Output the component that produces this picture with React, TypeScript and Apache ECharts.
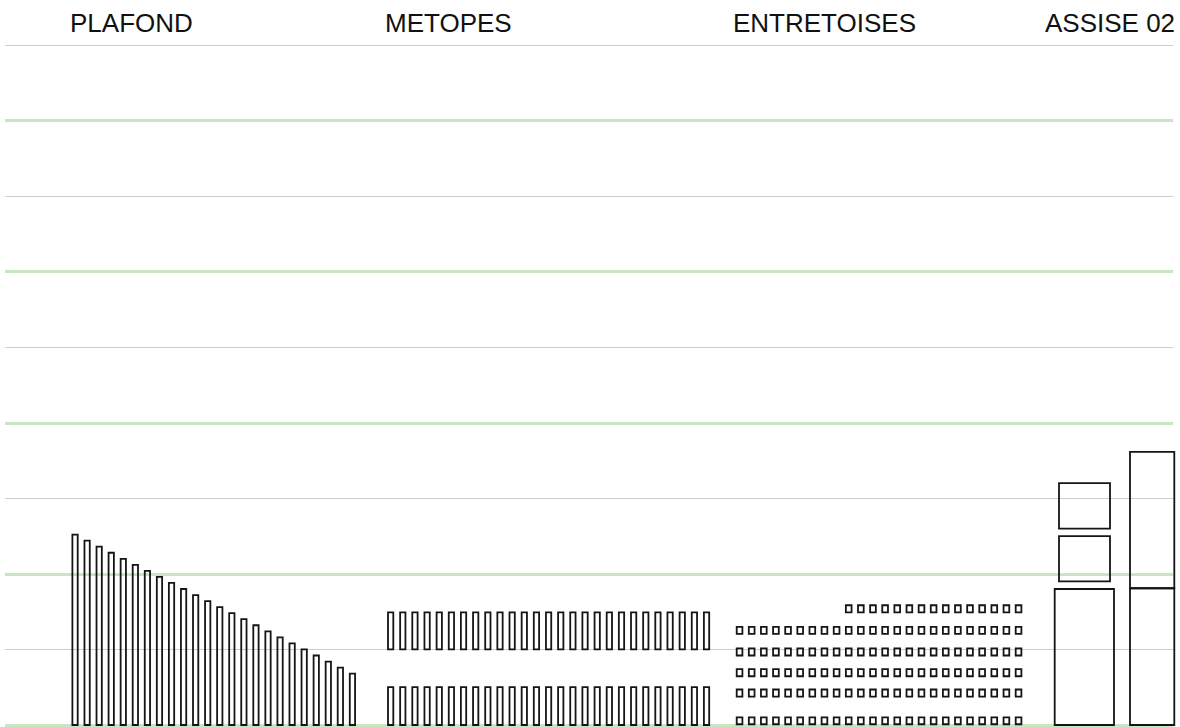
import React, { useEffect, useRef } from "react";
import * as echarts from "echarts";

// ---------- data (in height units; one grid line = 1 unit) ----------
const groupTitles = ["PLAFOND", "METOPES", "ENTRETOISES", "ASSISE 02"];

// PLAFOND: one bar per slab, heights
const plafondHeights = [
  2.52, 2.44, 2.36, 2.28, 2.2, 2.12, 2.04, 1.96, 1.88, 1.8, 1.72, 1.64,
  1.56, 1.48, 1.4, 1.32, 1.24, 1.16, 1.08, 1.0, 0.92, 0.84, 0.76, 0.68,
];

// METOPES: two rows of blocks
const metopesCounts = [27, 27];
const metopesBottoms = [0, 1.0];
const metopesTops = [0.5, 1.49];

// ENTRETOISES: six rows of small blocks (top row is shorter, right aligned)
const entretoisesCounts = [24, 24, 24, 24, 24, 15];
const entretoisesBottoms = [0.01, 0.375, 0.645, 0.92, 1.205, 1.49];
const entretoisesTops = [0.1, 0.47, 0.74, 1.015, 1.3, 1.585];

// ASSISE 02: two columns of stacked blocks
const assiseLeftBottoms = [0, 1.9, 2.6];
const assiseLeftTops = [1.8, 2.5, 3.2];
const assiseRightBottoms = [0, 1.81];
const assiseRightTops = [1.81, 3.615];

// grid lines
const yMax = 9;

// ---------- layout (horizontal placement in x-axis units) ----------
const LAYOUT = {
  xMax: 1168,
  titleX: [65, 380, 728, 1040],
  plafond: { start: 67.4, pitch: 12.06, width: 5.3 },
  metopes: { start: 383.0, pitch: 12.15, width: 5.3 },
  entretoises: { start: 731.7, pitch: 12.13, width: 5.7 },
  assiseLeft: [
    { x0: 1049.7, x1: 1109.0 },
    { x0: 1054.0, x1: 1105.0 },
    { x0: 1054.0, x1: 1105.0 },
  ],
  assiseRight: { x0: 1125.0, x1: 1169.3 },
};

function buildBlocks(): number[][] {
  const out: number[][] = [];
  const p = LAYOUT.plafond;
  plafondHeights.forEach((h, i) => {
    const x0 = p.start + i * p.pitch;
    out.push([x0, x0 + p.width, 0, h]);
  });
  const m = LAYOUT.metopes;
  metopesCounts.forEach((c, r) => {
    for (let i = 0; i < c; i++) {
      const x0 = m.start + i * m.pitch;
      out.push([x0, x0 + m.width, metopesBottoms[r], metopesTops[r]]);
    }
  });
  const e = LAYOUT.entretoises;
  const maxCount = Math.max(...entretoisesCounts);
  entretoisesCounts.forEach((c, r) => {
    const offset = maxCount - c;
    for (let i = 0; i < c; i++) {
      const x0 = e.start + (offset + i) * e.pitch;
      out.push([x0, x0 + e.width, entretoisesBottoms[r], entretoisesTops[r]]);
    }
  });
  assiseLeftBottoms.forEach((b, i) => {
    const l = LAYOUT.assiseLeft[i];
    out.push([l.x0, l.x1, b, assiseLeftTops[i]]);
  });
  assiseRightBottoms.forEach((b, i) => {
    out.push([LAYOUT.assiseRight.x0, LAYOUT.assiseRight.x1, b, assiseRightTops[i]]);
  });
  return out;
}

export default function App() {
  const ref = useRef<HTMLDivElement>(null);

  useEffect(() => {
    if (!ref.current) return;
    const chart = echarts.init(ref.current, null, { renderer: "svg" });
    const blocks = buildBlocks();
    const titleData = groupTitles.map((t, i) => ({ name: t, value: [LAYOUT.titleX[i], yMax] }));

    chart.setOption({
      animation: false,
      backgroundColor: "#ffffff",
      grid: { left: 5, right: 7, top: 45, bottom: 2, containLabel: false },
      xAxis: {
        type: "value",
        min: 0,
        max: LAYOUT.xMax,
        show: false,
        splitLine: { show: false },
      },
      yAxis: [
        {
          type: "value",
          min: 0,
          max: yMax,
          interval: 1,
          axisLine: { show: false },
          axisTick: { show: false },
          axisLabel: { show: false },
          splitLine: { show: true, lineStyle: { color: "#cdcdcd", width: 1.2 } },
        },
        {
          type: "value",
          min: 0,
          max: yMax,
          interval: 1,
          position: "right",
          axisLine: { show: false },
          axisTick: { show: false },
          axisLabel: { show: false },
          splitLine: {
            show: true,
            lineStyle: { color: ["#c8e6c1", "rgba(0,0,0,0)"], width: 3 },
          },
        },
      ],
      series: [
        {
          type: "custom",
          name: "blocs",
          xAxisIndex: 0,
          yAxisIndex: 0,
          clip: false,
          encode: { x: [0, 1], y: [2, 3] },
          data: blocks,
          renderItem: (params: any, api: any) => {
            const a = api.coord([api.value(0), api.value(2)]);
            const b = api.coord([api.value(1), api.value(3)]);
            return {
              type: "rect",
              shape: { x: a[0], y: b[1], width: b[0] - a[0], height: a[1] - b[1] },
              style: { fill: "none", stroke: "#151515", lineWidth: 1.8 },
            };
          },
          z: 5,
        },
        {
          type: "custom",
          name: "titres",
          xAxisIndex: 0,
          yAxisIndex: 0,
          clip: false,
          data: titleData,
          renderItem: (params: any, api: any) => {
            const p = api.coord([api.value(0), api.value(1)]);
            return {
              type: "text",
              x: p[0],
              y: p[1] - 22,
              style: {
                text: groupTitles[params.dataIndex],
                fill: "#111111",
                fontSize: 26,
                fontFamily: "'Liberation Sans', Arial, sans-serif",
                align: "left",
                verticalAlign: "middle",
              },
            };
          },
          z: 5,
        },
      ],
    });

    return () => chart.dispose();
  }, []);

  return (
    <div
      ref={ref}
      style={{ position: "absolute", left: 0, top: 0, width: 1180, height: 727 }}
    />
  );
}
